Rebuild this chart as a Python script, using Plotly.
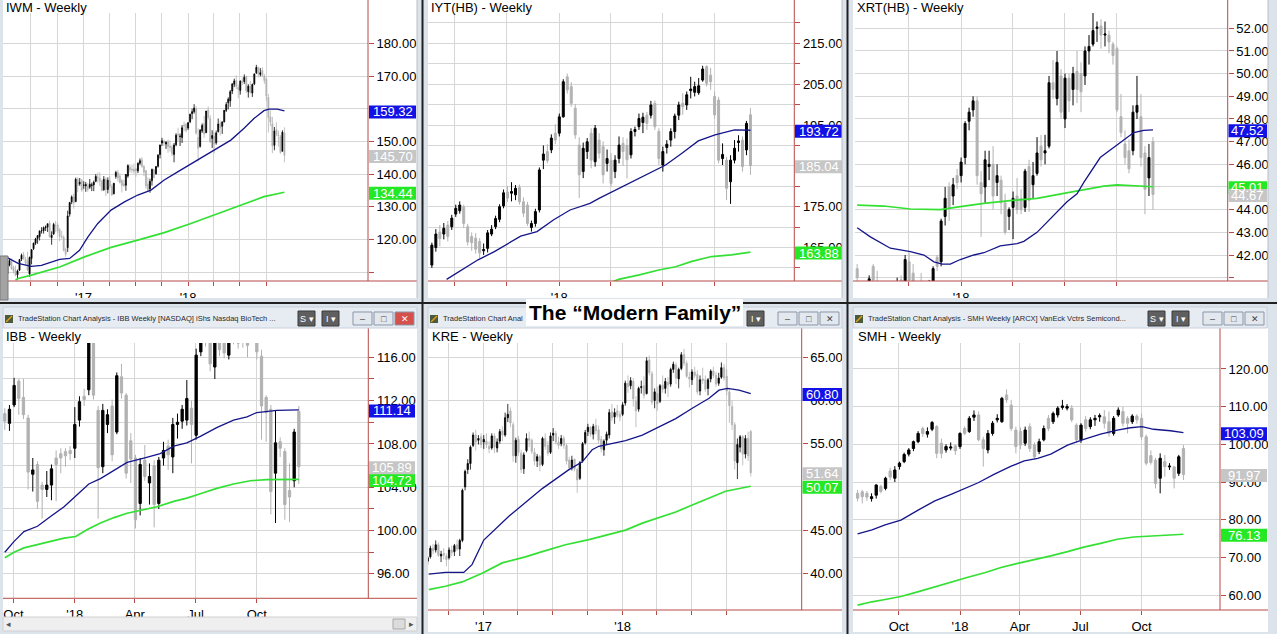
import pandas as pd
import plotly.graph_objects as go

# ======================= DATA =======================
# ---- IWM weekly (week starting) ----
iwm_start = "2016-04-04"
iwm_open = [111.5,109.5,112.2,113.5,111.4,110.5,109.2,110.6,114.0,115.4,
            113.9,113.4,109.5,114.2,117.2,118.9,120.3,120.9,122.7,122.7,
            123.6,123.8,125.0,120.6,121.7,124.2,124.5,122.9,120.8,120.7,
            117.0,117.5,127.8,131.5,133.0,131.6,138.4,137.0,138.0,136.6,
            136.4,136.2,136.0,136.5,136.7,137.8,139.0,138.7,137.8,135.2,
            138.4,135.3,138.0,136.2,134.0,139.3,140.5,139.4,138.0,137.0,
            136.6,139.4,142.0,141.5,141.5,141.6,141.0,143.3,144.4,142.4,
            141.0,137.0,135.5,138.0,141.3,140.1,142.4,146.0,149.5,150.1,
            149.2,150.0,148.6,148.3,146.0,149.0,152.2,151.5,151.2,155.0,
            155.2,154.1,156.0,158.5,159.1,160.0,151.2,148.5,153.2,155.4,
            152.7,159.6,157.0,150.9,151.5,149.6,153.0,155.4,154.6,156.0,
            159.5,161.8,162.4,165.4,167.5,168.6,166.5,165.6,168.4,168.3,
            169.8,165.2,166.8,164.8,167.6,171.0,172.7,170.5,171.7,170.0,
            169.0,163.5,157.5,155.5,148.8,153.6,152.0,151.4,147.0,152.6]
iwm_high = [112.0,112.6,114.3,114.2,112.0,112.0,110.8,114.0,115.7,116.2,
            114.7,116.3,114.8,117.1,119.0,120.5,121.3,122.8,123.8,124.0,
            124.3,124.9,125.8,122.5,125.1,125.7,125.1,123.5,122.6,121.3,
            117.5,128.8,131.5,133.5,134.0,138.9,139.0,138.8,138.5,137.8,
            137.6,137.3,138.5,137.4,138.0,140.0,140.5,140.5,138.3,139.4,
            139.0,139.0,139.5,136.9,137.3,141.0,141.3,140.2,138.5,138.2,
            140.0,143.0,143.0,142.9,143.2,141.8,143.6,144.8,145.2,142.7,
            141.3,139.0,138.6,141.7,141.7,142.5,146.1,149.0,151.1,150.6,
            150.1,150.6,150.3,149.0,149.5,152.5,154.2,152.4,155.0,156.0,
            155.6,155.9,158.5,160.0,161.4,160.8,154.0,153.8,155.5,157.8,
            159.3,160.7,158.0,153.4,152.8,153.3,157.0,156.4,156.2,159.6,
            162.0,163.5,165.7,167.7,169.2,170.2,167.4,168.7,169.5,170.5,
            170.1,167.5,168.5,167.7,170.8,173.4,172.8,172.4,172.7,170.6,
            169.5,164.5,159.5,157.5,154.4,155.8,153.3,152.0,153.4,154.3]
iwm_low = [108.7,109.3,111.8,110.8,109.6,108.8,107.8,110.4,113.4,113.8,
           112.2,110.3,108.6,112.4,116.8,118.3,118.7,119.7,121.8,121.8,
           122.6,122.3,120.6,118.4,121.4,122.2,121.9,119.5,120.3,116.3,
           114.7,116.2,127.0,130.8,129.4,131.4,134.5,136.4,134.6,135.5,
           134.6,134.6,135.5,134.8,134.8,137.5,137.4,136.3,134.8,134.9,
           133.3,134.1,135.8,133.4,133.8,138.6,137.7,137.1,134.4,136.1,
           134.9,138.9,140.4,140.4,140.1,139.2,140.3,142.7,141.9,139.4,
           135.5,134.6,134.3,136.5,138.7,139.8,142.0,144.8,148.6,148.6,
           147.7,146.5,146.9,145.5,143.6,148.5,149.9,148.6,149.5,153.1,
           152.8,153.5,155.6,156.8,158.5,152.0,143.8,148.1,152.6,151.1,
           152.5,156.7,149.5,148.0,146.4,149.0,152.7,151.8,152.3,155.8,
           159.0,159.8,160.6,164.5,166.6,166.0,163.2,164.3,167.2,167.6,
           164.8,163.4,164.6,163.6,167.2,170.6,169.6,169.9,169.7,167.6,
           162.4,152.7,154.6,146.4,147.3,151.6,148.4,146.2,146.9,143.6]
iwm_close = [109.3,112.4,113.5,111.0,110.3,109.0,110.4,113.9,115.2,114.1,
             112.8,110.7,114.5,116.9,118.9,120.2,121.2,122.6,122.7,123.6,
             123.8,124.8,120.8,121.3,124.6,124.2,122.6,120.9,120.8,116.7,
             115.5,127.2,131.3,133.0,131.2,138.4,136.6,137.5,135.1,136.6,
             136.8,135.3,136.9,136.7,137.5,139.3,138.9,137.8,135.0,138.4,
             135.3,138.1,136.3,133.6,137.2,140.5,138.9,137.5,136.6,136.5,
             139.9,142.6,141.3,141.3,140.9,141.0,143.3,144.1,142.4,140.6,
             136.4,135.1,137.8,141.4,139.0,142.3,145.8,148.9,150.2,149.5,
             149.7,148.4,148.1,146.2,148.9,151.9,152.0,151.6,154.2,154.8,
             153.3,155.7,158.3,159.1,160.2,152.6,147.9,153.4,154.9,152.3,
             159.3,157.3,149.9,151.8,149.2,152.6,155.3,154.2,155.9,159.5,
             161.3,162.9,165.2,167.6,168.5,166.9,165.9,168.4,168.1,169.6,
             165.5,166.9,165.0,167.4,170.6,172.6,170.6,171.0,170.2,168.6,
             163.9,157.3,155.9,148.6,153.2,152.2,151.8,146.6,152.8,145.7]
iwm_ma_blue_wk = [-0.5,6.3,12.9,17.9,27,32,36.9,41.1,46,52.6,59.3,65.9,72.5,79.1,85.8,92.4,99,105.6,112.3,118.9,123.8,128.8,131.3,135.4,139]
iwm_ma_blue = [114.9,112.7,111.8,112.1,113.9,114.2,116.7,120.8,124.9,129.0,131.5,133.6,135.1,138.2,140.7,143.1,145.5,147.9,150.4,154.0,157.0,159.4,159.9,159.9,159.32]
iwm_ma_green_wk = [5,6.3,12.9,27,39.4,52.6,65.9,79.1,92.4,105.6,117.2,128.8,139]
iwm_ma_green = [107.6,108.1,109.1,111.6,114.7,117.6,119.8,122.1,124.9,127.8,130.5,133.1,134.44]
iwm_yticks = [110,120,130,140,150,160,170,180]
iwm_ylabels = ["","120.00","130.00","140.00","150.00","","170.00","180.00"]
iwm_xticks = ["2016-07-01","2016-10-01","2017-01-01","2017-04-01","2017-07-01","2017-10-01","2018-01-01","2018-04-01","2018-07-01","2018-10-01"]
iwm_xlabels = ["","","'17","","","","'18","","",""]

# ---- IYT(HB) weekly ----
iyt_start = "2017-05-22"
iyt_open = [160.7,165.0,168.8,168.3,170.5,170.1,173.2,174.0,174.9,170.1,
            167.7,167.3,166.5,164.2,164.8,168.3,170.1,171.9,175.2,178.6,
            178.3,177.9,179.7,176.2,175.4,169.9,170.9,174.2,186.4,188.5,
            188.9,193.0,193.0,197.0,206.8,204.4,199.1,190.1,183.6,188.5,
            193.0,186.0,191.3,189.7,185.6,186.4,183.6,186.8,190.5,190.0,
            187.7,193.4,194.6,195.6,197.4,197.4,200.3,193.4,185.2,189.5,
            191.3,193.4,197.4,200.3,199.9,203.4,203.0,202.9,206.0,209.3,
            207.2,202.0,201.1,186.8,186.4,181.1,186.4,190.7,191.3,188.9,
            197.5]
iyt_high = [166.2,169.5,170.5,171.0,171.5,173.0,175.5,176.3,175.5,170.8,
            168.7,168.5,167.3,166.0,169.3,170.5,172.8,175.6,179.2,180.1,
            181.0,180.3,180.4,177.3,176.2,171.6,174.5,184.6,190.0,190.3,
            192.7,195.2,197.8,206.2,207.6,205.5,200.1,192.0,190.7,191.8,
            194.2,195.0,193.0,191.0,189.0,188.1,187.6,192.2,192.0,191.7,
            194.2,194.6,197.8,198.0,198.2,200.9,201.0,194.2,189.7,191.3,
            194.2,197.8,200.7,202.8,203.2,206.8,205.6,206.5,209.5,209.6,
            209.0,203.2,201.9,190.5,187.2,187.6,191.3,192.5,192.2,196.0,
            199.1]
iyt_low = [160.0,164.0,165.3,167.0,166.5,169.3,172.5,173.3,169.8,165.5,
           164.2,163.5,162.4,163.2,163.8,167.8,169.5,171.2,174.6,176.2,
           176.3,176.6,175.5,172.5,170.3,168.9,170.1,173.6,184.2,185.6,
           188.1,190.3,192.2,196.8,202.7,199.5,191.6,177.1,182.0,186.7,
           184.4,184.8,186.8,180.7,183.6,179.9,182.0,185.6,185.0,181.9,
           186.8,192.2,193.8,193.0,193.8,196.6,193.8,185.2,183.6,188.0,
           189.7,191.7,196.2,197.5,198.7,201.5,202.0,202.4,205.6,204.4,
           203.6,196.6,185.6,185.2,176.6,175.7,185.6,188.5,183.6,187.6,
           182.8]
iyt_close = [165.6,168.3,167.2,169.7,167.7,172.2,174.6,175.4,170.9,166.4,
             166.2,164.6,163.7,164.5,168.6,169.5,172.1,175.0,178.4,177.1,
             178.7,179.5,176.2,173.4,170.9,170.9,173.8,184.0,187.9,186.3,
             191.8,191.3,197.0,205.6,203.6,200.3,192.6,182.8,189.3,190.9,
             186.4,194.2,188.1,182.8,186.8,180.7,186.4,190.1,188.5,186.5,
             193.4,193.9,196.6,196.9,195.4,199.9,194.6,186.8,188.5,190.3,
             193.4,197.2,199.9,199.5,202.4,203.8,204.4,204.6,208.7,205.2,
             205.6,197.5,186.4,187.8,179.5,186.4,189.3,191.1,184.8,195.4,
             185.04]
iyt_ma_blue_wk = [3.7,7.4,11.6,15.7,22.3,26.4,30.6,34.7,39.7,42.1,46.3,50.4,55.4,58.7,62.8,66.9,71.1,76.0,80]
iyt_ma_blue = [157.2,159.5,162.0,164.0,167.8,168.9,171.8,174.2,175.8,177.1,179.1,181.1,183.6,185.2,188.1,191.1,192.6,193.8,193.72]
iyt_ma_green_wk = [45.5,46.9,52.1,57.0,61.2,65.3,70.2,75.2,80]
iyt_ma_green = [156.7,157.2,158.3,159.5,160.3,161.6,162.8,163.2,163.88]
iyt_yticks = [160,165,170,175,180,185,190,195,200,205,210,215,220]
iyt_ylabels = ["","165.00","","175.00","","","","195.00","","205.00","","215.00",""]
iyt_xticks = ["2017-07-01","2017-10-01","2018-01-01","2018-04-01","2018-07-01","2018-10-01"]
iyt_xlabels = ["","","'18","","",""]

# ---- XRT(HB) weekly ----
xrt_start = "2017-07-03"
xrt_open = [41.4,40.3,39.9,40.3,41.5,40.8,40.4,39.6,39.0,38.8,
            40.2,40.9,40.7,41.7,41.2,40.5,40.6,40.3,40.1,40.6,
            41.9,41.7,43.7,45.0,44.6,45.5,45.5,46.3,47.9,48.4,
            48.8,45.2,45.0,45.9,46.0,45.2,45.3,44.3,43.7,44.1,
            44.6,44.5,44.1,45.9,45.1,45.6,46.8,46.5,46.8,49.6,
            48.9,49.9,48.0,49.8,49.3,50.1,50.0,49.9,51.0,51.3,
            52.0,52.1,51.7,51.7,51.3,51.1,48.1,46.9,46.6,46.6,
            48.3,48.1,46.5,45.4,47.0]
xrt_high = [41.6,40.6,40.3,41.1,41.6,41.3,40.6,39.8,39.4,39.6,
            41.0,41.1,42.0,42.1,41.6,40.8,41.2,40.6,40.9,41.5,
            42.0,43.6,45.0,45.2,45.4,45.8,46.3,47.9,48.5,49.0,
            49.0,45.7,46.6,46.6,46.8,46.0,45.5,44.7,44.1,44.8,
            45.4,44.9,45.8,46.2,46.1,47.2,47.3,47.3,49.9,50.6,
            51.0,50.2,50.0,50.0,50.3,51.0,50.5,51.2,51.7,52.7,
            52.3,52.4,52.3,51.9,51.4,51.2,49.1,47.5,47.1,48.6,
            49.9,49.1,46.8,46.9,47.2]
xrt_low = [40.6,39.7,39.1,40.1,40.6,40.1,39.4,38.6,38.4,38.5,
           40.0,40.3,40.5,40.6,40.2,39.6,40.0,39.7,39.9,40.4,
           41.3,41.5,43.3,43.5,44.2,44.9,45.2,46.0,47.5,48.1,
           45.1,42.8,44.3,45.3,44.0,44.6,43.8,42.9,43.1,42.7,
           43.8,43.8,43.9,43.9,44.5,45.5,45.9,46.0,46.7,48.9,
           48.6,48.0,47.6,48.3,48.6,48.7,48.3,49.5,50.4,51.2,
           51.4,51.1,51.2,50.9,50.4,48.3,47.2,46.0,45.6,46.4,
           48.0,45.9,43.8,44.6,44.0]
xrt_close = [41.0,39.9,39.6,40.95,40.9,40.4,39.6,39.0,38.7,39.4,
             40.8,40.6,41.8,40.9,40.5,40.0,40.3,40.1,40.7,41.4,
             41.5,43.5,44.5,44.1,45.1,45.2,46.1,47.8,48.3,48.8,
             45.5,44.7,46.2,46.0,44.6,45.5,44.3,43.0,44.0,44.5,
             44.0,44.0,45.7,44.4,45.5,46.5,46.2,46.6,49.6,49.3,
             50.5,48.3,49.8,48.8,50.0,49.3,49.2,51.0,51.2,51.9,
             52.05,51.7,51.75,51.4,50.8,48.4,47.4,46.3,45.8,48.3,
             48.6,46.3,44.9,46.3,44.67]
xrt_ma_blue_wk = [0,3.3,8.3,13.3,16.7,19.2,21.3,23.3,25.8,29.2,31.7,35.8,40,41.7,45,48.3,52.5,55,56.7,60.8,65,69.2,71.7,74]
xrt_ma_blue = [43.2,42.8,42.3,42.15,42.0,41.7,41.6,41.6,41.8,42.0,42.1,42.4,42.5,42.6,43.0,43.6,44.35,44.7,45.2,46.3,46.85,47.4,47.5,47.52]
xrt_ma_green_wk = [0,6.7,13.3,20.8,25.8,31.7,38.3,45,51.7,56.7,61.7,65,70,74]
xrt_ma_green = [44.2,44.16,44.03,44.0,44.13,44.28,44.4,44.5,44.72,44.87,45.04,45.09,45.04,45.01]
xrt_yticks = [41,42,43,44,45,46,47,48,49,50,51,52]
xrt_ylabels = ["","42.00","43.00","44.00","","46.00","47.00","48.00","49.00","50.00","51.00","52.00"]
xrt_xticks = ["2017-10-01","2018-01-01","2018-04-01","2018-07-01","2018-10-01"]
xrt_xlabels = ["","'18","","",""]

# ---- IBB weekly ----
ibb_start = "2017-09-18"
ibb_open = [110.8,109.9,111.6,113.8,112.3,110.4,105.2,106.1,104.2,103.8,
            104.2,106.7,107.1,107.3,107.4,107.6,110.2,112.4,113.0,119.0,
            111.1,105.9,109.8,111.5,109.1,114.2,112.5,108.3,106.7,102.5,
            106.5,104.4,106.0,102.5,106.7,107.8,106.8,109.8,110.1,110.2,
            111.3,108.8,116.5,118.6,118.3,115.1,118.4,117.9,116.2,118.3,
            118.0,117.9,117.8,119.0,118.3,116.1,112.3,111.2,105.3,108.2,
            107.3,103.7,104.6,111.0]
ibb_high = [111.3,111.6,114.1,114.0,114.0,110.7,106.7,106.4,104.5,105.5,
            106.1,107.4,107.6,107.6,107.8,111.4,112.4,113.1,119.5,120.0,
            111.5,111.7,111.2,112.1,114.6,115.4,112.7,109.0,107.0,106.7,
            107.9,106.2,106.5,106.8,108.2,108.4,110.4,110.8,111.6,113.9,
            112.0,116.8,119.0,119.2,118.8,118.6,119.0,118.4,118.8,118.6,
            118.4,118.2,118.3,119.8,118.8,116.7,112.5,111.6,111.1,108.6,
            107.6,106.2,109.4,111.5]
ibb_low = [109.3,109.2,111.4,110.7,110.3,103.8,103.6,102.0,101.1,103.1,
           102.8,102.7,105.3,105.9,106.5,106.7,109.6,111.5,112.5,112.1,
           101.1,105.3,109.0,106.4,108.9,112.2,104.8,104.4,100.2,101.4,
           104.6,102.4,100.3,102.0,106.0,105.6,105.3,108.5,109.4,109.7,
           106.2,108.4,116.1,117.0,114.7,114.0,116.1,115.9,115.8,117.2,
           116.8,116.9,116.0,117.5,115.8,108.4,108.2,101.5,100.7,106.8,
           101.0,100.8,104.0,104.3]
ibb_close = [110.1,111.2,113.4,112.2,110.7,105.4,105.6,102.7,103.8,104.2,
             105.7,106.1,106.7,106.9,107.1,109.8,111.9,112.1,118.5,112.5,
             105.8,111.1,110.7,107.0,114.3,112.7,105.3,106.6,101.0,106.1,
             105.0,105.0,102.4,106.5,107.4,107.0,109.8,110.0,111.2,112.2,
             109.8,116.2,118.5,117.8,115.4,118.1,116.7,116.4,118.3,117.6,
             117.3,117.5,117.1,118.5,116.5,111.5,110.9,103.6,108.1,107.6,
             102.4,103.1,109.1,105.89]
ibb_ma_blue_wk = [0,2.0,4.1,7.0,9.8,12.7,15.5,18.0,20.5,23.4,26.2,29.8,33.3,36.2,39.0,41.9,45.4,49.0,51.9,54.0,56.1,58.3,63]
ibb_ma_blue = [98.0,99.0,99.9,100.4,101.3,102.2,103.3,104.3,104.8,105.6,106.3,106.7,107.1,107.8,108.1,108.7,109.5,110.2,110.5,110.9,111.0,111.1,111.14]
ibb_ma_green_wk = [0,2.0,4.1,7.0,9.8,12.7,15.2,17.7,20.5,23.4,26.2,29.1,32.6,36.2,39.0,41.9,45.4,49.0,52.6,56.1,59.7,63]
ibb_ma_green = [97.5,98.0,98.4,98.7,99.0,99.3,99.45,100.1,100.7,101.2,101.6,101.9,102.2,102.7,103.0,103.4,103.9,104.3,104.6,104.7,104.7,104.72]
ibb_yticks = [96,98,100,102,104,106,108,110,112,114,116]
ibb_ylabels = ["96.00","","100.00","","104.00","","108.00","","112.00","","116.00"]
ibb_xticks = ["2017-10-01","2018-01-01","2018-04-01","2018-07-01","2018-10-01"]
ibb_xlabels = ["Oct","'18","Apr","Jul","Oct"]

# ---- KRE weekly ----
kre_start = "2016-08-08"
kre_open = [41.4,41.9,42.9,42.7,43.3,42.0,42.3,42.0,41.8,42.7,
            42.5,43.3,42.8,43.8,50.0,52.0,52.7,54.8,56.0,55.4,
            55.8,55.2,55.3,54.7,54.5,55.9,54.5,55.3,56.5,56.0,
            58.0,58.8,57.2,53.6,55.5,53.9,52.1,54.2,55.6,55.4,
            54.0,53.0,53.5,52.6,55.6,54.8,54.0,56.0,56.2,55.2,
            55.0,55.6,54.8,53.1,52.2,53.2,52.0,51.0,53.0,55.1,
            56.4,56.9,56.1,57.1,56.6,55.5,54.3,55.4,56.0,58.7,
            58.1,58.8,58.4,58.4,59.7,62.0,61.7,62.2,59.9,59.0,
            61.5,61.7,60.8,64.7,63.1,60.0,60.8,59.9,61.8,61.4,
            62.1,61.9,63.6,64.1,62.5,63.7,65.3,64.3,62.7,62.4,
            63.3,63.0,61.1,62.5,62.4,61.4,62.5,63.4,62.9,62.0,
            62.7,63.8,62.8,61.0,59.3,57.2,52.8,54.6,55.8,53.8,
            55.6,56.4]
kre_high = [42.0,43.2,43.4,43.8,43.6,42.6,42.9,42.3,43.0,43.2,
            43.4,43.9,44.0,49.8,52.0,53.2,54.8,56.3,56.6,56.0,
            56.2,56.0,56.2,55.3,56.2,56.2,55.6,56.7,57.0,58.6,
            59.6,59.2,57.5,55.7,55.9,54.3,54.0,56.2,56.4,55.6,
            54.5,53.8,53.7,55.8,56.2,55.3,56.3,56.8,56.5,55.8,
            56.0,55.9,55.0,53.5,53.6,53.3,52.2,53.0,55.2,56.6,
            57.3,57.0,57.3,57.9,57.1,55.9,55.5,56.4,59.0,59.6,
            59.1,59.5,58.8,59.8,62.3,62.9,62.7,62.6,60.5,61.6,
            62.3,62.8,65.0,65.2,63.4,61.4,61.6,61.9,62.9,62.6,
            62.7,63.8,64.5,64.4,63.8,65.6,66.0,64.6,63.3,63.6,
            63.9,63.5,62.9,63.8,62.9,62.6,63.6,63.9,63.3,63.2,
            64.4,64.2,63.6,61.4,60.0,57.5,55.6,56.0,56.0,56.0,
            56.4,56.6]
kre_low = [41.0,41.7,42.2,42.4,41.9,41.3,41.6,40.8,41.6,42.0,
           42.0,42.6,42.0,43.6,49.6,51.5,52.0,54.6,54.2,54.9,
           54.5,54.4,54.5,53.9,54.3,53.9,54.0,55.0,55.3,55.8,
           57.5,56.9,52.9,52.8,53.6,51.6,51.5,54.0,54.6,53.8,
           52.5,52.3,51.8,52.4,54.3,53.6,53.8,55.3,54.9,54.4,
           54.7,54.4,52.6,51.9,51.9,51.8,49.3,50.8,52.8,54.9,
           55.9,55.8,55.5,56.1,55.0,54.0,53.6,54.9,55.6,57.6,
           57.3,58.0,57.6,58.2,59.4,60.9,61.3,59.3,56.9,58.7,
           60.8,60.2,60.7,62.9,59.5,59.1,58.8,59.7,60.9,60.8,
           60.4,61.6,63.2,61.9,61.4,63.5,64.0,62.6,61.5,61.8,
           62.6,60.7,60.6,61.9,61.0,60.6,62.1,62.6,61.6,61.7,
           62.5,62.3,60.6,57.4,56.6,52.0,50.9,54.0,52.5,53.3,
           53.0,51.2]
kre_close = [41.8,42.9,42.6,43.3,42.1,42.2,42.1,41.6,42.7,42.4,
             43.2,42.8,43.8,49.6,51.8,52.7,54.6,56.0,55.2,55.6,
             54.9,55.5,54.9,54.4,55.9,54.6,55.2,56.4,56.0,58.0,
             58.4,57.4,53.6,55.4,54.0,52.0,53.7,55.6,55.4,54.1,
             53.0,53.5,52.5,55.6,54.7,53.9,55.9,56.2,55.2,54.8,
             55.6,54.8,53.0,52.2,53.1,52.1,50.8,52.8,55.0,56.3,
             56.9,56.1,57.0,56.5,55.4,54.4,55.3,56.1,58.6,58.0,
             58.6,58.3,58.1,59.5,62.0,61.6,62.3,60.2,58.8,61.4,
             61.6,60.6,64.6,63.2,59.8,61.0,59.6,61.7,61.3,62.2,
             61.8,63.6,64.2,62.6,63.6,65.3,64.3,62.8,62.5,63.3,
             62.9,61.0,62.4,62.3,61.3,62.4,63.4,62.9,61.9,62.6,
             63.8,62.6,61.1,59.4,57.2,53.0,54.9,55.8,53.8,55.6,
             53.6,51.64]
kre_ma_blue_wk = [0.4,6.6,13.5,16.6,21,30.4,42.9,52.9,57.9,61.6,64.1,74.1,80.4,86.6,92.9,99.1,105.4,109.1,112.3,116.6,121]
kre_ma_blue = [39.9,40.1,40.1,41.0,43.85,46.6,49.8,52.0,52.9,54.3,54.7,55.35,56.0,56.9,57.9,59.1,60.25,61.2,61.4,61.2,60.8]
kre_ma_green_wk = [0.4,6.6,12.9,20.4,27.9,36.6,42.9,51.6,60.4,69.1,74.1,80.4,86.6,92.9,99.1,105.4,111.6,121]
kre_ma_green = [38.1,38.5,39.0,40.0,41.2,41.9,42.5,43.3,43.9,44.6,45.0,45.8,46.4,47.1,47.9,48.7,49.5,50.07]
kre_yticks = [40,45,50,55,60,65]
kre_ylabels = ["40.00","45.00","","55.00","60.00","65.00"]
kre_xticks = ["2016-10-01","2017-01-01","2017-04-01","2017-07-01","2017-10-01","2018-01-01","2018-04-01","2018-07-01","2018-10-01"]
kre_xlabels = ["","'17","","","","'18","","",""]

# ---- SMH weekly ----
smh_start = "2017-07-31"
smh_open = [87.0,87.4,87.0,85.6,86.5,88.8,88.3,92.9,91.0,94.1,
            95.4,97.4,98.9,100.7,104.2,102.7,104.0,104.7,100.3,98.5,
            99.0,99.6,99.4,104.2,103.4,107.2,107.8,101.2,98.5,102.9,
            106.5,106.0,113.1,110.4,103.8,103.4,100.3,104.7,99.8,98.1,
            101.2,106.9,106.0,107.8,109.8,109.6,109.6,105.1,101.2,106.5,
            104.7,106.5,107.3,107.3,106.0,102.9,107.8,108.7,106.9,106.0,
            107.5,106.9,102.0,97.0,95.8,91.0,95.4,94.0,94.0,92.3,
            98.9]
smh_high = [87.9,87.9,87.6,87.0,89.4,89.3,91.4,93.8,94.2,95.4,
            97.8,99.0,101.0,103.5,104.7,104.5,106.2,105.1,101.5,100.0,
            100.5,100.0,103.2,104.8,107.5,109.0,108.7,102.0,103.8,106.2,
            108.0,112.6,114.6,111.8,104.7,104.5,104.7,105.6,100.5,101.5,
            105.0,107.8,108.7,110.1,111.8,110.7,110.4,105.6,105.6,107.5,
            107.2,107.8,108.2,109.1,108.7,107.5,109.8,110.0,107.5,108.0,
            108.0,108.2,102.6,98.4,96.4,97.6,97.2,95.0,94.3,97.2,
            99.8]
smh_low = [84.8,84.3,85.0,84.8,85.6,87.0,87.8,90.5,90.0,93.3,
           95.0,96.8,98.2,100.3,102.0,101.8,103.5,96.3,96.3,97.8,
           98.4,97.2,98.8,102.4,103.0,106.2,100.8,94.1,97.6,102.3,
           105.8,105.7,111.0,103.5,97.6,98.7,99.6,98.0,96.0,97.4,
           100.8,103.5,105.4,107.1,109.2,109.0,105.9,100.5,100.4,103.4,
           104.0,104.9,106.0,104.2,102.0,102.3,107.3,104.7,102.9,105.4,
           105.5,101.2,94.4,94.6,88.3,87.0,91.4,93.2,88.3,91.6,
           90.5]
smh_close = [85.7,86.1,86.0,86.1,89.2,87.5,91.0,91.3,93.2,95.0,
             97.3,98.5,100.7,102.9,102.9,103.4,105.8,97.6,97.6,99.4,
             99.3,98.3,102.9,102.9,106.9,107.8,101.2,98.9,102.9,105.6,
             106.9,112.2,111.8,104.2,99.4,99.8,103.8,98.9,96.7,100.7,
             104.2,104.2,108.2,109.6,110.2,110.0,106.5,101.2,105.1,104.2,
             106.5,106.9,107.6,105.6,102.9,106.9,109.1,105.6,105.6,107.5,
             106.5,102.0,95.0,95.2,89.6,96.3,94.1,94.2,91.0,96.7,
             91.97]
smh_ma_blue_wk = [0,3.1,5.9,9.3,13.1,16.6,20.2,22.3,25.9,29.4,33.0,35.8,38.7,41.5,45.1,48.6,52.2,55.8,58.6,61.1,63.6,67.2,70]
smh_ma_blue = [76.2,77.3,78.6,79.9,82.6,85.0,86.8,87.9,89.8,92.1,94.2,95.6,96.3,97.4,99.8,101.3,102.7,103.8,104.4,104.7,104.0,103.6,103.09]
smh_ma_green_wk = [0,3.1,5.9,9.3,13.1,16.6,20.2,23.7,27.3,30.8,34.4,37.9,41.5,45.1,48.6,52.2,55.8,59.3,62.9,66.4,70]
smh_ma_green = [57.3,58.2,58.8,59.6,60.9,62.2,63.4,64.7,65.9,67.3,68.4,69.3,70.4,71.5,72.7,73.7,74.8,75.4,75.7,75.95,76.13]
smh_yticks = [60,70,80,90,100,110,120]
smh_ylabels = ["60.00","70.00","80.00","90.00","100.00","110.00","120.00"]
smh_xticks = ["2017-10-01","2018-01-01","2018-04-01","2018-07-01","2018-10-01"]
smh_xlabels = ["Oct","'18","Apr","Jul","Oct"]

window_titles = {
    "ibb": "TradeStation Chart Analysis - IBB Weekly [NASDAQ] iShs Nasdaq BioTech ...",
    "kre": "TradeStation Chart Anal",
    "smh": "TradeStation Chart Analysis - SMH Weekly [ARCX] VanEck Vctrs Semicond...",
}
headline = "The \u201cModern Family\u201d"

DATA = {
    "iwm": (iwm_start, iwm_open, iwm_high, iwm_low, iwm_close, iwm_ma_blue_wk, iwm_ma_blue, iwm_ma_green_wk, iwm_ma_green, iwm_yticks, iwm_ylabels, iwm_xticks, iwm_xlabels),
    "iyt": (iyt_start, iyt_open, iyt_high, iyt_low, iyt_close, iyt_ma_blue_wk, iyt_ma_blue, iyt_ma_green_wk, iyt_ma_green, iyt_yticks, iyt_ylabels, iyt_xticks, iyt_xlabels),
    "xrt": (xrt_start, xrt_open, xrt_high, xrt_low, xrt_close, xrt_ma_blue_wk, xrt_ma_blue, xrt_ma_green_wk, xrt_ma_green, xrt_yticks, xrt_ylabels, xrt_xticks, xrt_xlabels),
    "ibb": (ibb_start, ibb_open, ibb_high, ibb_low, ibb_close, ibb_ma_blue_wk, ibb_ma_blue, ibb_ma_green_wk, ibb_ma_green, ibb_yticks, ibb_ylabels, ibb_xticks, ibb_xlabels),
    "kre": (kre_start, kre_open, kre_high, kre_low, kre_close, kre_ma_blue_wk, kre_ma_blue, kre_ma_green_wk, kre_ma_green, kre_yticks, kre_ylabels, kre_xticks, kre_xlabels),
    "smh": (smh_start, smh_open, smh_high, smh_low, smh_close, smh_ma_blue_wk, smh_ma_blue, smh_ma_green_wk, smh_ma_green, smh_yticks, smh_ylabels, smh_xticks, smh_xlabels),
}

# ======================= LAYOUT (pixels) =======================
W, H = 1277, 634
RED = "#b84a46"
GRID = "#d6d6d6"
UP = "#000000"
DOWN = "#b2b2b2"
BLUE_MA = "#15158a"
GREEN_MA = "#33e033"
BOX_BLUE = "#1212e6"
BOX_GRAY = "#c6c6c6"
BOX_GREEN = "#25e825"
FRAME = "#dde3eb"
DARK = "#202020"
FONT = "Arial, 'Liberation Sans', sans-serif"

PANELS = [
    dict(key="iwm", title="IWM - Weekly", white=(3, 0, 417, 298), plot=(3, 13, 368, 281),
         yr=(107.31, 189.27), cal=(188.1, 0.2867), vb=(369, 416), lw=0.8, tx=4, ty=7, redtop=0),
    dict(key="iyt", title="IYT(HB) - Weekly", white=(428, 0, 842, 298), plot=(428, 13, 794.3, 281),
         yr=(156.81, 222.42), cal=(559.3, 0.5689), vb=(795, 842), lw=1, tx=429, ty=7, redtop=0),
    dict(key="xrt", title="XRT(HB) - Weekly", white=(853, 0, 1268, 298), plot=(855, 13, 1227.7, 281),
         yr=(40.853, 52.675), cal=(961.1, 0.571), vb=(1228.5, 1267), lw=1, tx=855, ty=7, redtop=0),
    dict(key="ibb", title="IBB - Weekly", white=(3, 328, 417, 617), plot=(3, 343, 368.3, 598.3),
         yr=(93.747, 117.32), cal=(74.8, 0.6668), vb=(369, 415), lw=1, tx=4, ty=336, redtop=328),
    dict(key="kre", title="KRE - Weekly", white=(428, 328, 842, 632), plot=(428, 343, 801.7, 610),
         yr=(35.75, 66.655), cal=(622.6, 0.3814), vb=(802.5, 842), lw=0.8, tx=430, ty=336, redtop=328),
    dict(key="smh", title="SMH - Weekly", white=(853, 328, 1268, 632), plot=(853, 343, 1220, 610),
         yr=(56.02, 126.90), cal=(960.0, 0.665), vb=(1221, 1267), lw=1, tx=856, ty=336, redtop=328),
]


def fx(x):
    return x / W


def fy(y):
    return 1 - y / H


shapes, annos = [], []


def rect(x0, y0, x1, y1, fill, line=None, lw=0, layer="above"):
    shapes.append(dict(type="rect", xref="paper", yref="paper", x0=fx(x0), x1=fx(x1),
                       y0=fy(y1), y1=fy(y0), fillcolor=fill,
                       line=dict(color=line or fill, width=lw), layer=layer))


def seg(x0, y0, x1, y1, color, w=1, layer="above"):
    shapes.append(dict(type="line", xref="paper", yref="paper", x0=fx(x0), x1=fx(x1),
                       y0=fy(y0), y1=fy(y1), line=dict(color=color, width=w), layer=layer))


def text(x, y, s, size=13, color="black", xanchor="left", family=FONT):
    annos.append(dict(xref="paper", yref="paper", x=fx(x), y=fy(y), text=s, showarrow=False,
                      xanchor=xanchor, yanchor="middle", font=dict(family=family, size=size, color=color)))


fig = go.Figure()
JAN18 = pd.Timestamp("2018-01-01")

for k, p in enumerate(PANELS, start=1):
    (start, o, h, l, c, bwk, bval, gwk, gval, ytv, ytt, xtv, xtt) = DATA[p["key"]]
    sfx = "" if k == 1 else str(k)
    st = pd.Timestamp(start)
    dates = [st + pd.Timedelta(days=7 * i) for i in range(len(c))]
    bdates = [st + pd.Timedelta(days=7 * w) for w in bwk]
    gdates = [st + pd.Timedelta(days=7 * w) for w in gwk]

    fig.add_trace(go.Candlestick(
        x=dates, open=o, high=h, low=l, close=c, xaxis="x" + sfx, yaxis="y" + sfx,
        increasing=dict(line=dict(color=UP, width=p["lw"]), fillcolor=UP),
        decreasing=dict(line=dict(color=DOWN, width=p["lw"]), fillcolor=DOWN),
        whiskerwidth=0, showlegend=False, hoverinfo="skip"))
    fig.add_trace(go.Scatter(x=gdates, y=gval, mode="lines", line=dict(color=GREEN_MA, width=1.7),
                             xaxis="x" + sfx, yaxis="y" + sfx, showlegend=False, hoverinfo="skip"))
    fig.add_trace(go.Scatter(x=bdates, y=bval, mode="lines", line=dict(color=BLUE_MA, width=1.3),
                             xaxis="x" + sfx, yaxis="y" + sfx, showlegend=False, hoverinfo="skip"))

    x0, ytop, x1, ybot = p["plot"]
    a, ppd = p["cal"]
    d0 = JAN18 + pd.Timedelta(days=(x0 - a) / ppd)
    d1 = JAN18 + pd.Timedelta(days=(x1 - a) / ppd)
    tickfont = dict(family=FONT, size=13, color="black")
    fig.layout["xaxis" + sfx] = dict(
        domain=[fx(x0), fx(x1)], anchor="y" + sfx, type="date", range=[str(d0), str(d1)],
        tickmode="array", tickvals=xtv, ticktext=xtt, ticks="outside", ticklen=4, tickwidth=1,
        tickcolor=RED, showgrid=True, gridcolor=GRID, gridwidth=1, showline=False, zeroline=False,
        rangeslider=dict(visible=False), tickfont=tickfont, fixedrange=True)
    fig.layout["yaxis" + sfx] = dict(
        domain=[fy(ybot), fy(ytop)], anchor="x" + sfx, side="right", range=list(p["yr"]),
        tickmode="array", tickvals=ytv, ticktext=ytt, ticks="outside", ticklen=5, tickwidth=1,
        tickcolor=RED, showgrid=True, gridcolor=GRID, gridwidth=1, showline=False, zeroline=False,
        tickfont=tickfont, fixedrange=True)

    # white window area
    wl, wt, wr, wb = p["white"]
    rect(wl, wt, wr, wb, "white", layer="below")
    # red price / time axes
    seg(x1, p["redtop"], x1, ybot, RED, 1)
    seg(wl, ybot, wr, ybot, RED, 1)
    # window title inside chart
    text(p["tx"], p["ty"], p["title"], 13)

    # value boxes at the right (blue MA, last close, green MA)
    def vy(v):
        return ybot - (v - p["yr"][0]) / (p["yr"][1] - p["yr"][0]) * (ybot - ytop) + 1

    bl, br = p["vb"]
    for val, col in ((bval[-1], BOX_BLUE), (gval[-1], BOX_GREEN), (c[-1], BOX_GRAY)):
        yy = vy(val)
        rect(bl, yy - 6.5, br, yy + 6.5, col)
        text((bl + br) / 2, yy, f"{val:.2f}", 13, "white", xanchor="center")

# ---------------- window chrome ----------------
rect(0, 298, W, 307, FRAME)
rect(417, 0, 428, H, FRAME)
rect(842, 0, 853, H, FRAME)
rect(1268, 0, W, H, FRAME)
rect(0, 0, 3, H, FRAME)
rect(0, 632, W, H, FRAME)
seg(0, 303, W, 303, DARK, 2)
seg(422.5, 0, 422.5, H, DARK, 2)
seg(847.5, 0, 847.5, H, DARK, 2)
seg(417, 0, 417, 298, "#b9bec6", 1)
seg(842, 0, 842, 298, "#b9bec6", 1)
seg(1268, 0, 1268, 298, "#b9bec6", 1)
# grip at the lower-left of the first window
rect(0, 256, 8, 300, "#a3a3a3", "#7a7a7a", 1)

# bottom window title bars
for off, key in ((0, "ibb"), (425, "kre"), (850, "smh")):
    rect(3 + off, 307, 417 + off, 328, "#e7ecf3", "#c9d0da", 1)
    rect(5 + off, 315, 13 + off, 323, "#4a5a3a")
    seg(6 + off, 322, 12 + off, 316, "#e0a020", 1.5)
    text(16 + off, 318.5, window_titles[key], 7.5, "#2a2a2a")
    if key != "kre":
        rect(298 + off, 311, 315 + off, 326, "#5f5f5f", "#3a3a3a", 1)
        text(306.5 + off, 318.5, "S \u25be", 9, "white", xanchor="center")
    rect(322 + off, 311, 339 + off, 326, "#5f5f5f", "#3a3a3a", 1)
    text(330.5 + off, 318.5, "I \u25be", 9, "white", xanchor="center")
    for i, sym in enumerate(("\u2013", "\u25a1", "\u2715")):
        bx = 353 + off + i * 21
        fill = "#d5504a" if (key == "ibb" and i == 2) else "#e3e8ef"
        rect(bx, 312, bx + 19, 325, fill, "#8a95a6", 1)
        text(bx + 9.5, 318.5, sym, 9, "white" if fill != "#e3e8ef" else "#444", xanchor="center")

# IBB horizontal scrollbar
rect(3, 617, 417, 631, "#efefef", "#d0d0d0", 1)
text(8, 624, "\u25c2", 9, "#555", xanchor="center")
text(411, 624, "\u25b8", 9, "#555", xanchor="center")
rect(393, 619, 405, 629, "#dcdcdc", "#a8a8a8", 1)

# headline box
rect(526, 299, 743, 326, "white")
text(634.5, 312.5, "<b>" + headline + "</b>", 21, "black", xanchor="center")

fig.update_layout(
    width=W, height=H, autosize=False, template="none",
    margin=dict(l=0, r=0, t=0, b=0), paper_bgcolor=FRAME, plot_bgcolor="white",
    showlegend=False, shapes=shapes, annotations=annos, hovermode=False,
)

fig.write_html("out.html", include_plotlyjs=True, config={"displayModeBar": False})
